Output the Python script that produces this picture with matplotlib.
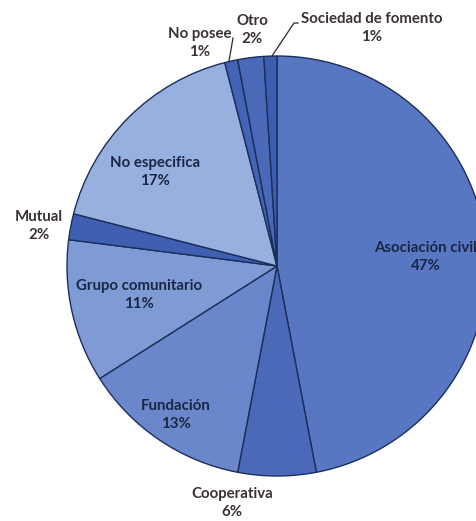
import numpy as np
import matplotlib
matplotlib.use("Agg")
import matplotlib.pyplot as plt

# Organisation types and their share (%)
categories = ["Asociación civil", "Cooperativa", "Fundación", "Grupo comunitario",
              "Mutual", "No especifica", "No posee", "Otro", "Sociedad de fomento"]
shares = [47, 6, 13, 11, 2, 17, 1, 2, 1]
colors = ["#5877c3", "#4a69b9", "#6a87cb", "#7f9bd5", "#3f5fb3",
          "#98b0df", "#4263b6", "#4a69b9", "#3d5db1"]

W, H = 476, 521
CX, CY, R = 277, 266, 210  # pie centre and radius in pixels

fig = plt.figure(figsize=(W / 100, H / 100), dpi=100)
ax = fig.add_axes([0, 0, 1, 1])
ax.set_axis_off()


def px(x, y):
    """pixel position (from top-left) -> data coordinates"""
    return (x - CX) / R, (CY - y) / R


wedges, _ = ax.pie(shares, colors=colors, startangle=90, counterclock=False,
                   radius=1.0, center=(0, 0), frame=False,
                   wedgeprops=dict(edgecolor="#1c2f5a", linewidth=1.0))
ax.set_xlim(-CX / R, (W - CX) / R)
ax.set_ylim(-(H - CY) / R, CY / R)
ax.set_aspect("auto")

inner_col = "#1a2744"
outer_col = "#3a3232"
label_px = {
    "Asociación civil": (426, 257, inner_col),
    "Cooperativa": (232, 503, outer_col),
    "Fundación": (176, 415, inner_col),
    "Grupo comunitario": (139, 295, inner_col),
    "Mutual": (39, 226, outer_col),
    "No especifica": (155, 172, inner_col),
    "No posee": (200, 43, outer_col),
    "Otro": (252, 30, outer_col),
    "Sociedad de fomento": (372, 28, outer_col),
}
for name, val in zip(categories, shares):
    x, y, c = label_px[name]
    ax.text(*px(x, y), f"{name}\n{val}%", ha="center", va="center",
            fontsize=10.8, fontweight="bold", color=c, family="Lato",
            linespacing=1.3)

# leader lines for the narrow slices
for pts in ([(233, 38), (229, 61)],
            [(298, 23), (294, 23), (272, 56)]):
    xs, ys = zip(*[px(*p) for p in pts])
    ax.plot(xs, ys, color="#2a2a2a", lw=0.9)

fig.savefig("out.png", dpi=100)
